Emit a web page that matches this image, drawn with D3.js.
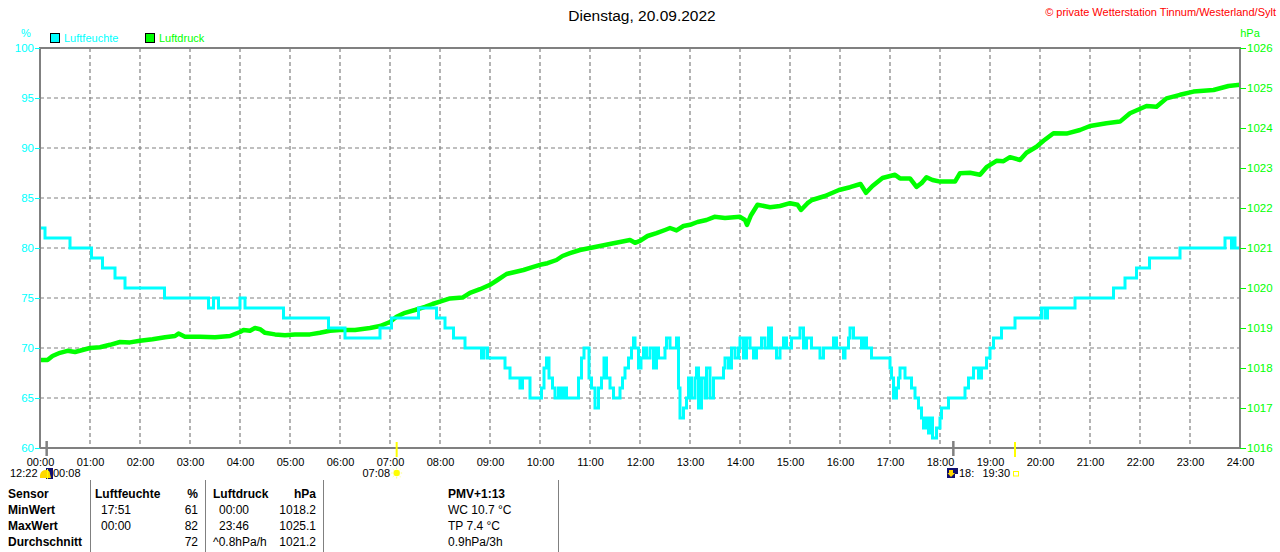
<!DOCTYPE html>
<html>
<head>
<meta charset="utf-8">
<script src="https://cdn.jsdelivr.net/npm/d3@7/dist/d3.min.js"></script>
<style>
  html, body { margin: 0; padding: 0; background: #fff; }
  svg { display: block; font-family: "Liberation Sans", Arial, sans-serif; }
</style>
</head>
<body>
<svg id="chart" width="1280" height="552"></svg>
<script>
// ---------- DATA ----------
const hourTicks = d3.range(0, 25);
const hourLabels = hourTicks.map(h => String(h).padStart(2, "0") + ":00");
const humTicks = [60, 65, 70, 75, 80, 85, 90, 95, 100];
const pressTicks = [1016, 1017, 1018, 1019, 1020, 1021, 1022, 1023, 1024, 1025, 1026];

// Luftfeuchte (%) : [hour, value], step after
const humidity = [
[0,82],[0.1,81],[0.6,80],[1.03,79],[1.25,78],[1.5,77],[1.7,76],[2.49,75],[3.37,74],[3.47,75],[3.57,74],[4.0,75],[4.1,74],
[4.87,73],[5.77,72],[6.1,71],[6.8,72],[7.03,73],[7.57,74],[7.93,73],[8.1,72],[8.27,71],[8.5,70],[8.83,69],[8.88,70],[8.95,69],
[9.3,68],[9.4,67],[9.6,66],[9.65,67],[9.8,65],[10.03,66],[10.08,68],[10.13,69],[10.18,67],[10.25,66],[10.3,65],[10.37,66],
[10.42,65],[10.47,66],[10.53,65],[10.77,67],[10.83,69],[10.88,70],[10.98,67],[11.03,66],[11.1,64],[11.17,66],[11.23,67],
[11.28,69],[11.33,67],[11.4,66],[11.47,65],[11.6,66],[11.65,67],[11.7,68],[11.77,69],[11.83,70],[11.87,71],[11.9,70],
[11.97,68],[12.02,69],[12.07,70],[12.13,69],[12.2,70],[12.27,68],[12.33,70],[12.37,69],[12.5,70],[12.53,71],[12.6,70],
[12.73,71],[12.77,66],[12.8,63],[12.87,64],[12.93,65],[12.97,67],[13.03,65],[13.1,67],[13.13,68],[13.17,64],[13.23,67],
[13.3,65],[13.33,68],[13.4,65],[13.47,67],[13.67,68],[13.7,69],[13.77,68],[13.83,70],[13.9,69],[13.97,70],[14.0,71],
[14.07,69],[14.13,71],[14.2,70],[14.27,69],[14.33,70],[14.43,71],[14.5,70],[14.57,72],[14.63,70],[14.73,69],[14.8,70],
[14.87,71],[14.93,70],[15.03,71],[15.2,72],[15.27,70],[15.33,71],[15.43,70],[15.6,69],[15.67,70],[15.87,71],[15.93,70],
[16.07,69],[16.1,70],[16.17,71],[16.2,72],[16.27,71],[16.43,70],[16.47,71],[16.53,70],[16.63,69],[17.0,68],[17.03,67],
[17.07,65],[17.13,66],[17.17,67],[17.2,68],[17.3,67],[17.43,66],[17.5,65],[17.57,64],[17.63,63],[17.67,62],[17.73,63],
[17.77,61.5],[17.8,63],[17.85,61],[17.93,62],[18.0,63],[18.03,64],[18.17,65],[18.5,66],[18.57,67],[18.67,68],[18.77,67],
[18.83,68],[18.93,69],[19.0,70],[19.07,71],[19.23,72],[19.5,73],[20.03,74],[20.1,73],[20.15,74],[20.7,75],[21.47,76],
[21.7,77],[21.93,78],[22.19,79],[22.8,80],[23.7,81],[23.83,80],[23.87,81],[23.9,80],[24,80]
];

// Luftdruck (hPa) : [hour, value]
const pressure = [
[0,1018.2],[0.15,1018.2],[0.25,1018.3],[0.4,1018.38],[0.55,1018.43],[0.7,1018.4],[0.85,1018.45],[1.0,1018.5],[1.2,1018.52],
[1.4,1018.58],[1.6,1018.65],[1.8,1018.64],[2.0,1018.68],[2.25,1018.72],[2.5,1018.77],[2.7,1018.8],[2.77,1018.86],[2.9,1018.78],
[3.2,1018.78],[3.5,1018.77],[3.8,1018.8],[4.0,1018.9],[4.07,1018.95],[4.2,1018.93],[4.3,1019.0],[4.4,1018.97],[4.5,1018.88],
[4.7,1018.84],[4.9,1018.82],[5.1,1018.84],[5.4,1018.84],[5.6,1018.88],[5.8,1018.93],[6.0,1018.95],[6.3,1018.95],[6.6,1019.0],
[6.8,1019.05],[7.0,1019.15],[7.13,1019.28],[7.3,1019.38],[7.5,1019.45],[7.7,1019.53],[7.85,1019.6],[8.0,1019.66],[8.2,1019.74],
[8.45,1019.76],[8.6,1019.88],[8.8,1019.97],[9.0,1020.08],[9.15,1020.2],[9.33,1020.35],[9.5,1020.4],[9.67,1020.45],[9.85,1020.52],
[10.0,1020.58],[10.15,1020.62],[10.33,1020.7],[10.45,1020.8],[10.6,1020.87],[10.8,1020.95],[11.0,1021.0],[11.2,1021.05],
[11.47,1021.12],[11.6,1021.15],[11.8,1021.2],[11.9,1021.13],[12.0,1021.18],[12.15,1021.3],[12.33,1021.37],[12.5,1021.45],
[12.6,1021.5],[12.73,1021.44],[12.87,1021.55],[13.0,1021.58],[13.15,1021.65],[13.33,1021.7],[13.49,1021.78],[13.7,1021.75],
[14.0,1021.78],[14.1,1021.7],[14.14,1021.58],[14.22,1021.82],[14.35,1022.08],[14.6,1022.02],[14.8,1022.05],[15.0,1022.12],
[15.15,1022.08],[15.22,1021.95],[15.35,1022.12],[15.44,1022.2],[15.7,1022.3],[15.98,1022.45],[16.2,1022.52],[16.41,1022.6],
[16.47,1022.48],[16.52,1022.38],[16.65,1022.55],[16.8,1022.7],[16.85,1022.75],[17.1,1022.83],[17.2,1022.74],[17.4,1022.74],
[17.53,1022.53],[17.63,1022.62],[17.73,1022.77],[17.85,1022.7],[18.0,1022.66],[18.3,1022.66],[18.4,1022.87],[18.6,1022.88],
[18.8,1022.83],[18.93,1023.02],[19.13,1023.18],[19.27,1023.17],[19.4,1023.27],[19.6,1023.2],[19.73,1023.38],[19.93,1023.53],
[20.07,1023.68],[20.27,1023.87],[20.53,1023.86],[20.8,1023.95],[21.0,1024.05],[21.33,1024.12],[21.6,1024.16],[21.8,1024.37],
[22.13,1024.55],[22.33,1024.53],[22.53,1024.74],[22.8,1024.83],[23.07,1024.91],[23.47,1024.95],[23.77,1025.05],[24,1025.08]
];

// Sun / moon events (hour values)
const sunEvents = [{t: 7 + 8/60, label: "07:08", kind: "rise"}, {t: 19.5, label: "19:30", kind: "set"}];
const moonEvents = [{t: 8/60, label: "00:08"}, {t: 18 + 16/60, label: "18:"}];

// Table
const tableHeader = ["Sensor", "Luftfeuchte", "%", "Luftdruck", "hPa", "PMV+1:13"];
const rowLabels = ["MinWert", "MaxWert", "Durchschnitt"];
const humTimes = ["17:51", "00:00", ""];
const humValues = ["61", "82", "72"];
const pressTimes = ["00:00", "23:46", "^0.8hPa/h"];
const pressValues = ["1018.2", "1025.1", "1021.2"];
const extraInfo = ["WC 10.7 °C", "TP 7.4 °C", "0.9hPa/3h"];

// ---------- DRAW ----------
const CY = "#00ffff", GR = "#00ff00", GRAY = "#808080";
const svg = d3.select("#chart");
svg.append("rect").attr("width", 1280).attr("height", 552).attr("fill", "#fff");

const x = d3.scaleLinear().domain([0, 24]).range([40, 1240]);
const yH = d3.scaleLinear().domain([60, 100]).range([448, 48]);
const yP = d3.scaleLinear().domain([1016, 1026]).range([448, 48]);

// grid
const grid = svg.append("g").attr("stroke", GRAY).attr("stroke-width", 1.2).attr("stroke-dasharray", "4,3");
grid.selectAll("line.v").data(hourTicks.slice(1, 24)).join("line")
  .attr("x1", d => x(d)).attr("x2", d => x(d)).attr("y1", 48).attr("y2", 448);
grid.selectAll("line.h").data(humTicks.slice(1, -1)).join("line")
  .attr("x1", 40).attr("x2", 1240).attr("y1", d => yH(d)).attr("y2", d => yH(d));

// clip
svg.append("clipPath").attr("id", "clip").append("rect").attr("x", 40).attr("y", 48).attr("width", 1200).attr("height", 400);

// pressure line
svg.append("path").datum(pressure)
  .attr("clip-path", "url(#clip)")
  .attr("fill", "none").attr("stroke", GR).attr("stroke-width", 4.5).attr("stroke-linejoin", "round")
  .attr("d", d3.line().x(d => x(d[0])).y(d => yP(d[1])));

// humidity line
svg.append("path").datum(humidity)
  .attr("clip-path", "url(#clip)")
  .attr("fill", "none").attr("stroke", CY).attr("stroke-width", 3)
  .attr("d", d3.line().x(d => x(d[0])).y(d => yH(d[1])).curve(d3.curveStepAfter));

// frame
svg.append("rect").attr("x", 40).attr("y", 48).attr("width", 1200).attr("height", 400)
  .attr("fill", "none").attr("stroke", GRAY).attr("stroke-width", 2);

// left axis
const axL = svg.append("g").attr("transform", "translate(40,0)")
  .call(d3.axisLeft(yH).tickValues(humTicks).tickSize(5).tickPadding(1));
axL.select(".domain").remove();
axL.selectAll("line").attr("stroke", CY);
axL.selectAll("text").attr("fill", CY).attr("font-size", 11.5).attr("font-family", "Liberation Sans, Arial, sans-serif");

// right axis
const axR = svg.append("g").attr("transform", "translate(1240,0)")
  .call(d3.axisRight(yP).tickValues(pressTicks).tickFormat(d3.format("d")).tickSize(6).tickPadding(1));
axR.select(".domain").remove();
axR.selectAll("line").attr("stroke", GR);
axR.selectAll("text").attr("fill", GR).attr("font-size", 11.5).attr("font-family", "Liberation Sans, Arial, sans-serif");

// bottom axis
const axB = svg.append("g").attr("transform", "translate(0,448)")
  .call(d3.axisBottom(x).tickValues(hourTicks).tickFormat((d, i) => hourLabels[i]).tickSize(0).tickPadding(10));
axB.select(".domain").remove();
axB.selectAll("text").attr("fill", "#000").attr("font-size", 11).attr("font-family", "Liberation Sans, Arial, sans-serif");

// unit labels
svg.append("text").attr("x", 26).attr("y", 37).attr("text-anchor", "middle").attr("fill", CY).attr("font-size", 11).text("%");
svg.append("text").attr("x", 1250).attr("y", 37).attr("text-anchor", "middle").attr("fill", GR).attr("font-size", 11).text("hPa");

// legend
const legend = [{name: "Luftfeuchte", color: CY, x: 50}, {name: "Luftdruck", color: GR, x: 145}];
legend.forEach(l => {
  svg.append("rect").attr("x", l.x + 0.5).attr("y", 33.5).attr("width", 9).attr("height", 9)
    .attr("fill", l.color).attr("stroke", "#000").attr("stroke-width", 1);
  svg.append("text").attr("x", l.x + 14).attr("y", 42).attr("fill", l.color).attr("font-size", 11).text(l.name);
});

// title & copyright
svg.append("text").attr("x", 642).attr("y", 21).attr("text-anchor", "middle").attr("font-size", 15.5).attr("fill", "#000")
  .text("Dienstag, 20.09.2022");
svg.append("text").attr("x", 1276).attr("y", 16).attr("text-anchor", "end").attr("font-size", 11).attr("fill", "#ff0000")
  .text("© private Wetterstation Tinnum/Westerland/Sylt");

// sun / moon markers
sunEvents.forEach(e => {
  svg.append("line").attr("x1", x(e.t)).attr("x2", x(e.t)).attr("y1", 442).attr("y2", 457)
    .attr("stroke", "#ffff00").attr("stroke-width", 2);
});
moonEvents.forEach(e => {
  svg.append("line").attr("x1", x(e.t)).attr("x2", x(e.t)).attr("y1", 441).attr("y2", 456)
    .attr("stroke", GRAY).attr("stroke-width", 2.5);
});

const bt = svg.append("g").attr("font-size", 11).attr("fill", "#000");
bt.append("text").attr("x", 10).attr("y", 477).text("12:22");
// moonset icon
svg.append("rect").attr("x", 46).attr("y", 468).attr("width", 7).attr("height", 11).attr("fill", "#101070");
svg.append("path").attr("d", "M40,478 L40,475 Q41,470 46,470 Q50,470 50,474 L51,478 Z").attr("fill", "#ffd800");
svg.append("line").attr("x1", 47.5).attr("x2", 47.5).attr("y1", 469).attr("y2", 479).attr("stroke", "#ffff00").attr("stroke-width", 1);
bt.append("text").attr("x", 53).attr("y", 477).text(moonEvents[0].label);

// sunrise
bt.append("text").attr("x", 390).attr("y", 477).attr("text-anchor", "end").text(sunEvents[0].label);
const sx = x(sunEvents[0].t), sy = 473;
svg.append("circle").attr("cx", sx).attr("cy", sy).attr("r", 3.2).attr("fill", "#ffff00");
d3.range(8).forEach(i => {
  const a = i * Math.PI / 4;
  svg.append("line").attr("x1", sx + Math.cos(a) * 4).attr("y1", sy + Math.sin(a) * 4)
    .attr("x2", sx + Math.cos(a) * 5.5).attr("y2", sy + Math.sin(a) * 5.5)
    .attr("stroke", "#ffff80").attr("stroke-width", 1);
});

// moonrise icon
svg.append("rect").attr("x", 947).attr("y", 468).attr("width", 11).attr("height", 10).attr("fill", "#101070");
svg.append("path").attr("d", "M949,470 L953,470 L953,473 L955,473 L951,477 L947.5,473 L949,473 Z").attr("fill", "#ffd800");
svg.append("rect").attr("x", 955).attr("y", 474).attr("width", 3).attr("height", 4).attr("fill", "#ffffff");
bt.append("text").attr("x", 959).attr("y", 477).text(moonEvents[1].label);
// sunset
bt.append("text").attr("x", 1010).attr("y", 477).attr("text-anchor", "end").text(sunEvents[1].label);
svg.append("rect").attr("x", 1013.5).attr("y", 471.5).attr("width", 5).attr("height", 4.5)
  .attr("fill", "none").attr("stroke", "#ffff00").attr("stroke-width", 1);

// table separators
[90, 205, 323, 558].forEach(sx2 => {
  svg.append("line").attr("x1", sx2 + 0.5).attr("x2", sx2 + 0.5).attr("y1", 480).attr("y2", 552)
    .attr("stroke", GRAY).attr("stroke-width", 1);
});

const tb = svg.append("g").attr("font-size", 12).attr("fill", "#000");
const rowY = [498, 514, 530, 546];
const hdrX = [8, 95, 198, 213, 316, 448];
const hdrAnchor = ["start", "start", "end", "start", "end", "start"];
tableHeader.forEach((h, i) => {
  tb.append("text").attr("x", hdrX[i]).attr("y", rowY[0]).attr("text-anchor", hdrAnchor[i])
    .attr("font-weight", "bold").text(h);
});
rowLabels.forEach((r, i) => {
  const yy = rowY[i + 1];
  tb.append("text").attr("x", 8).attr("y", yy).attr("font-weight", "bold").text(r);
  tb.append("text").attr("x", 101).attr("y", yy).text(humTimes[i]);
  tb.append("text").attr("x", 198).attr("y", yy).attr("text-anchor", "end").text(humValues[i]);
  tb.append("text").attr("x", i === 2 ? 213 : 219).attr("y", yy).text(pressTimes[i]);
  tb.append("text").attr("x", 316).attr("y", yy).attr("text-anchor", "end").text(pressValues[i]);
  tb.append("text").attr("x", 448).attr("y", yy).text(extraInfo[i]);
});
</script>
</body>
</html>
